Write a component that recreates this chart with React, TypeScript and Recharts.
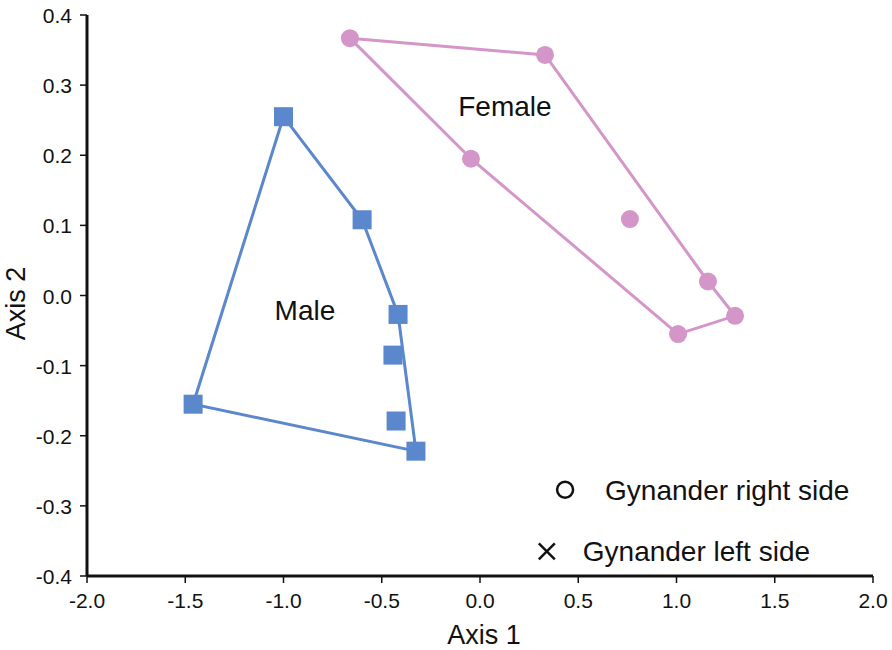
import React from "react"
import {
  ScatterChart,
  Scatter,
  XAxis,
  YAxis,
} from "recharts"

const maleX = [-1.0, -0.6, -0.417, -0.443, -0.427, -0.326, -1.46]
const maleY = [0.255, 0.108, -0.027, -0.085, -0.179, -0.222, -0.155]
// indices of the male points that form the outline, in drawing order
const maleHull = [0, 1, 2, 5, 6, 0]

const femaleX = [-0.662, 0.331, -0.046, 0.763, 1.16, 1.298, 1.008]
const femaleY = [0.367, 0.343, 0.195, 0.109, 0.02, -0.029, -0.055]
const femaleHull = [0, 1, 4, 5, 6, 2, 0]

const gynanderLabels = ["Gynander right side", "Gynander left side"]
const gynanderX = [0.433, 0.34]
const gynanderY = [-0.277, -0.365]
const gynanderMarks = ["circle", "cross"]

const groupLabels = ["Female", "Male"]
const groupLabelX = [0.127, -0.891]
const groupLabelY = [0.27, -0.021]

const xTicks = [-2.0, -1.5, -1.0, -0.5, 0.0, 0.5, 1.0, 1.5, 2.0]
const yTicks = [-0.4, -0.3, -0.2, -0.1, 0.0, 0.1, 0.2, 0.3, 0.4]

const BLUE = "#5b87cc"
const PINK = "#d496c8"
const INK = "#111"
const FONT = "'Liberation Sans', Arial, sans-serif"

const male = maleX.map((x, i) => ({ x, y: maleY[i] }))
const female = femaleX.map((x, i) => ({ x, y: femaleY[i] }))
const maleLine = maleHull.map((i) => male[i])
const femaleLine = femaleHull.map((i) => female[i])
const gynander = gynanderX.map((x, i) => ({
  x,
  y: gynanderY[i],
  label: gynanderLabels[i],
  mark: gynanderMarks[i],
}))
const labels = groupLabelX.map((x, i) => ({ x, y: groupLabelY[i], label: groupLabels[i] }))

const Nothing = () => <g />

const SquareMark = (props: any) => {
  const { cx, cy } = props
  return <rect x={cx - 9.5} y={cy - 9.5} width={19} height={19} fill={BLUE} />
}

const DotMark = (props: any) => {
  const { cx, cy } = props
  return <circle cx={cx} cy={cy} r={9} fill={PINK} />
}

const GynanderMark = (props: any) => {
  const { cx, cy, payload } = props
  const isCircle = payload.mark === "circle"
  return (
    <g>
      {isCircle ? (
        <circle cx={cx} cy={cy} r={8} fill="none" stroke={INK} strokeWidth={2.5} />
      ) : (
        <g stroke={INK} strokeWidth={2.5}>
          <line x1={cx - 8} y1={cy - 8} x2={cx + 8} y2={cy + 8} />
          <line x1={cx - 8} y1={cy + 8} x2={cx + 8} y2={cy - 8} />
        </g>
      )}
      <text x={cx + (isCircle ? 40 : 36)} y={cy + 10} fontSize={28} fontFamily={FONT} fill={INK}>
        {payload.label}
      </text>
    </g>
  )
}

const TextMark = (props: any) => {
  const { cx, cy, payload } = props
  return (
    <text x={cx} y={cy + 10} textAnchor="middle" fontSize={28} fontFamily={FONT} fill={INK}>
      {payload.label}
    </text>
  )
}

const XTick = (props: any) => {
  const { x, y, payload } = props
  return (
    <text x={x} y={y + 23} textAnchor="middle" fontSize={21} fontFamily={FONT} fill={INK}>
      {payload.value.toFixed(1)}
    </text>
  )
}

const YTick = (props: any) => {
  const { x, y, payload } = props
  return (
    <text x={x - 6} y={y + 8} textAnchor="end" fontSize={21} fontFamily={FONT} fill={INK}>
      {payload.value.toFixed(1)}
    </text>
  )
}

const XTitle = (props: any) => {
  const { viewBox } = props
  return (
    <text
      x={viewBox.x + viewBox.width / 2 + 4}
      y={644}
      textAnchor="middle"
      fontSize={27}
      fontFamily={FONT}
      fill={INK}
    >
      Axis 1
    </text>
  )
}

const YTitle = (props: any) => {
  const { viewBox } = props
  const cx = 25
  const cy = viewBox.y + viewBox.height / 2 + 8
  return (
    <text
      x={cx}
      y={cy}
      transform={`rotate(-90, ${cx}, ${cy})`}
      textAnchor="middle"
      fontSize={27}
      fontFamily={FONT}
      fill={INK}
    >
      Axis 2
    </text>
  )
}

export default function App() {
  return (
    <div style={{ position: "absolute", left: 0, top: 0, background: "#fff" }}>
      <ScatterChart
        width={892}
        height={650}
        margin={{ top: 15, right: 19, left: 0, bottom: 0 }}
      >
        <XAxis
          type="number"
          dataKey="x"
          domain={[-2, 2]}
          ticks={xTicks}
          height={74}
          axisLine={{ stroke: INK, strokeWidth: 3 }}
          tickLine={{ stroke: INK, strokeWidth: 1.5 }}
          tickSize={7}
          tick={XTick}
          label={XTitle}
          allowDataOverflow
        />
        <YAxis
          type="number"
          dataKey="y"
          domain={[-0.4, 0.4]}
          ticks={yTicks}
          width={87}
          axisLine={{ stroke: INK, strokeWidth: 3 }}
          tickLine={{ stroke: INK, strokeWidth: 1.5 }}
          tickSize={7}
          tick={YTick}
          label={YTitle}
          allowDataOverflow
        />
        <Scatter
          data={maleLine}
          line={{ stroke: BLUE, strokeWidth: 3 }}
          shape={Nothing}
          isAnimationActive={false}
        />
        <Scatter
          data={femaleLine}
          line={{ stroke: PINK, strokeWidth: 3 }}
          shape={Nothing}
          isAnimationActive={false}
        />
        <Scatter data={male} shape={SquareMark} isAnimationActive={false} />
        <Scatter data={female} shape={DotMark} isAnimationActive={false} />
        <Scatter data={gynander} shape={GynanderMark} isAnimationActive={false} />
        <Scatter data={labels} shape={TextMark} isAnimationActive={false} />
      </ScatterChart>
    </div>
  )
}
